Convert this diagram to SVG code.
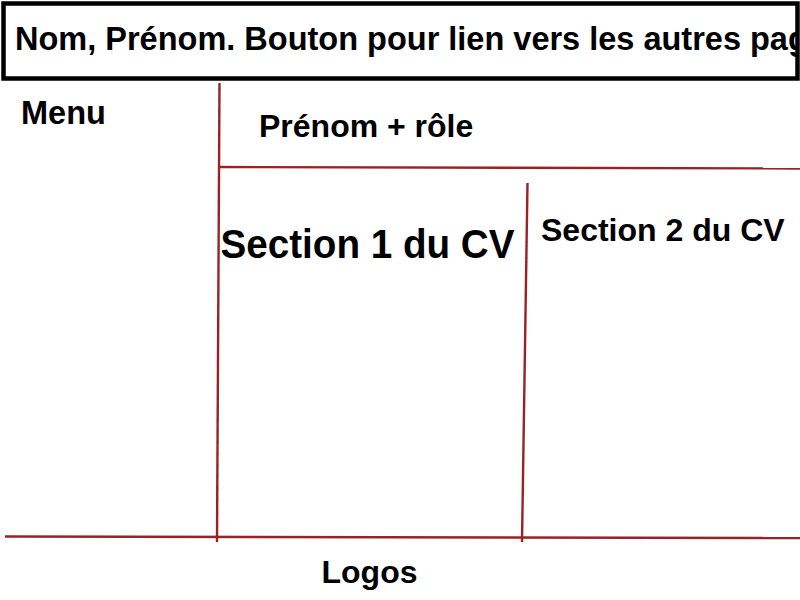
<svg xmlns="http://www.w3.org/2000/svg" width="800" height="600" viewBox="0 0 800 600">
  <defs>
    <style>
      .t { font-family: "Liberation Sans", Arial, sans-serif; font-weight: bold; fill: #000; }
      .ln { stroke: #9a2226; stroke-width: 2.4; fill: none; }
    </style>
    <clipPath id="hdrclip"><rect x="0" y="0" width="796" height="80"/></clipPath>
  </defs>
  <rect x="0" y="0" width="800" height="600" fill="#fff"/>

  <g id="header">
    <text class="t" x="15" y="50" font-size="32.5" clip-path="url(#hdrclip)">Nom, Prénom. Bouton pour lien vers les autres pag</text>
    <rect x="3.5" y="3.5" width="794" height="75" fill="none" stroke="#000" stroke-width="4.5"/>
  </g>

  <g id="connectors">
    <line class="ln" x1="219.5" y1="83" x2="217" y2="542"/>
    <line class="ln" x1="219" y1="167" x2="800" y2="168.5"/>
    <line class="ln" x1="527.5" y1="183" x2="522" y2="542"/>
    <line class="ln" x1="5" y1="536.5" x2="800" y2="538"/>
  </g>

  <g id="menu">
    <text class="t" x="21" y="124" font-size="32.5">Menu</text>
  </g>
  <g id="prenom-role">
    <text class="t" x="259" y="137.3" font-size="32">Prénom + rôle</text>
  </g>
  <g id="section1">
    <text class="t" x="220.5" y="257.5" font-size="41" textLength="294" lengthAdjust="spacingAndGlyphs">Section 1 du CV</text>
  </g>
  <g id="section2">
    <text class="t" x="541" y="241" font-size="32">Section 2 du CV</text>
  </g>
  <g id="logos">
    <text class="t" x="321.5" y="583.3" font-size="32">Logos</text>
  </g>
</svg>
